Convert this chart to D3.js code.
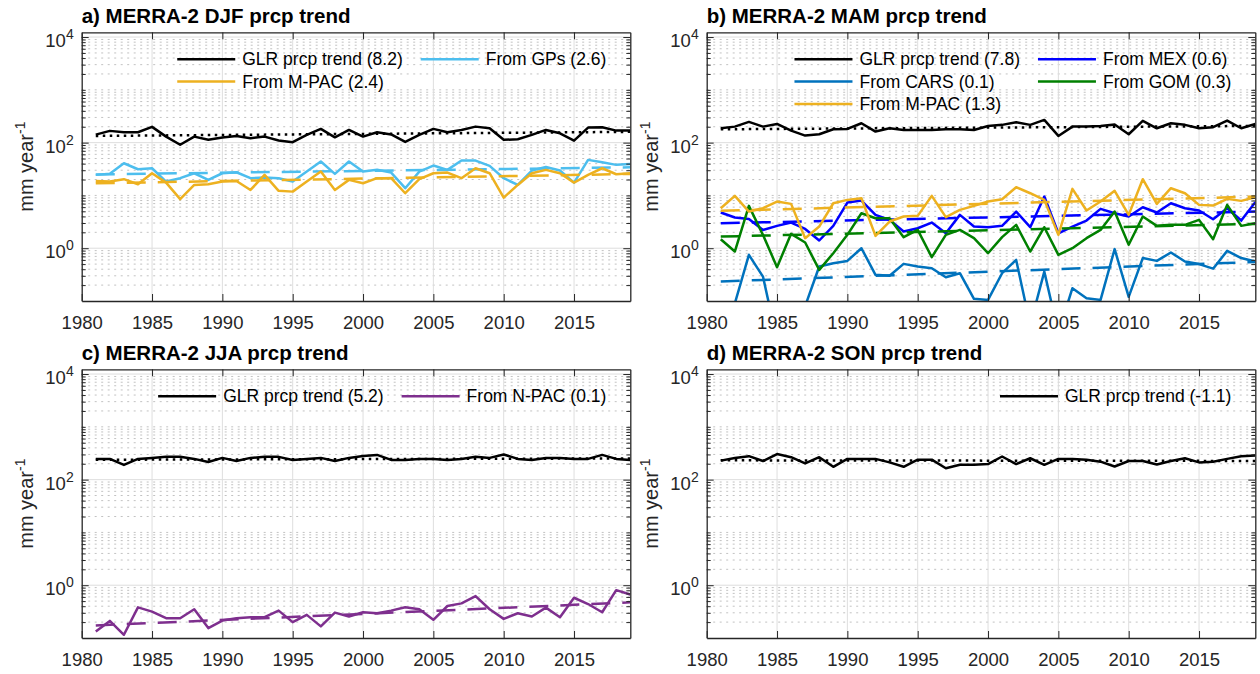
<!DOCTYPE html>
<html>
<head>
<meta charset="utf-8">
<script src="https://cdn.jsdelivr.net/npm/d3@7"></script>
<style>
    body { margin: 0; background: #fff; }
    svg { font-family: "Liberation Sans", Arial, Helvetica, sans-serif; }
</style>
</head>
<body>
<svg id="chart" width="1260" height="674"></svg>
<script>
const years = [1981, 1982, 1983, 1984, 1985, 1986, 1987, 1988, 1989, 1990,
    1991, 1992, 1993, 1994, 1995, 1996, 1997, 1998, 1999, 2000,
    2001, 2002, 2003, 2004, 2005, 2006, 2007, 2008, 2009, 2010,
    2011, 2012, 2013, 2014, 2015, 2016, 2017, 2018, 2019];
const xTicks = [1980, 1985, 1990, 1995, 2000, 2005, 2010, 2015];
const yMajorTicks = [1, 100, 10000];
const yTickExps = ["0", "2", "4"];

// a) DJF
const djfGLR = [142, 167, 157, 157, 199, 130, 91, 130, 113, 125, 134, 121, 130, 110, 102, 140, 182, 126, 174, 130,
    157, 143, 103, 140, 182, 157, 174, 201, 187, 113, 116, 140, 174, 150, 109, 193, 196, 169, 169];
const djfGPs = [24.5, 25.6, 40.7, 31.3, 32.7, 18.3, 21.2, 26.3, 19.7, 26.3, 27.5, 21.2, 21.8, 21.2, 18.3, 28.3, 43.8, 25.6, 43.8, 28.3,
    30.5, 27.1, 13.7, 28.3, 36.8, 30.5, 45.7, 45.7, 36.3, 21.2, 15.8, 29.6, 34.5, 29.6, 17.5, 47.1, 42.5, 37.9, 39.5];
const djfMPAC = [18.8, 18.3, 20.3, 16.3, 26.3, 17.5, 8.5, 15.8, 16.3, 18.3, 18.8, 12.7, 24.5, 12.2, 11.8, 18.3, 28.3, 12.7, 19.7, 17.0,
    21.2, 21.2, 11.0, 20.3, 26.3, 27.1, 21.2, 32.7, 26.3, 9.1, 15.8, 26.3, 30.5, 26.3, 17.5, 24.5, 32.7, 25.2, 26.3];
const djfGLRTrend = [134, 160];
const djfGPsTrend = [25, 34];
const djfMPACTrend = [17, 25.5];
const djfLabels = ["GLR prcp trend (8.2)", "From GPs (2.6)", "From M-PAC (2.4)"];

// b) MAM
const mamGLR = [187, 201, 247, 201, 226, 169, 136, 144, 179, 182, 233, 162, 187, 174, 174, 174, 179, 179, 174, 207,
    217, 243, 217, 269, 134, 201, 201, 207, 220, 144, 258, 187, 233, 217, 187, 196, 262, 187, 226];
const mamMEX = [4.74, 3.81, 3.59, 2.22, 2.65, 3.06, 2.32, 1.40, 2.65, 7.33, 8.0, 4.28, 3.44, 2.07, 2.39, 3.06, 1.92, 4.28, 2.57, 2.50,
    2.65, 4.95, 2.50, 9.52, 1.92, 2.57, 3.34, 5.56, 4.60, 3.98, 5.98, 4.74, 7.11, 5.72, 5.17, 3.54, 5.72, 3.34, 7.43];
const mamCARS = [0.03, 0.09, 0.75, 0.29, 0.018, 0.02, 0.08, 0.45, 0.52, 0.575, 1.0, 0.313, 0.30, 0.505, 0.45, 0.418, 0.282, 0.336, 0.11, 0.105,
    0.336, 0.60, 0.035, 0.36, 0.025, 0.175, 0.113, 0.105, 0.96, 0.12, 0.65, 0.575, 0.83, 0.56, 0.50, 0.41, 0.89, 0.65, 0.56];
const mamGOM = [1.48, 0.865, 6.33, 1.79, 0.437, 1.87, 1.28, 0.389, 0.804, 1.79, 4.60, 3.70, 3.70, 1.62, 2.22, 0.676, 1.79, 2.22, 1.55, 0.804,
    1.62, 2.77, 0.865, 2.50, 0.748, 1.0, 1.55, 2.22, 4.95, 1.16, 3.98, 2.65, 2.77, 2.77, 3.44, 1.48, 6.62, 2.65, 2.97];
const mamMPAC = [5.72, 9.8, 4.95, 5.72, 7.65, 6.92, 1.55, 2.57, 7.11, 8.23, 8.85, 1.71, 3.20, 3.98, 4.10, 9.8, 3.87, 5.32, 6.33, 7.65,
    8.47, 14.3, 11.0, 8.23, 1.79, 13.3, 5.17, 7.65, 12.2, 4.28, 20.3, 6.92, 13.7, 11.0, 6.62, 6.43, 8.6, 7.88, 9.25];
const mamGLRTrend = [179, 207];
const mamMEXTrend = [2.97, 4.95];
const mamCARSTrend = [0.234, 0.55];
const mamGOMTrend = [1.66, 2.89];
const mamMPACTrend = [5.1, 9.5];
const mamLabels = ["GLR prcp trend (7.8)", "From MEX (0.6)", "From CARS (0.1)", "From GOM (0.3)", "From M-PAC (1.3)"];

// c) JJA
const jjaGLR = [247, 247, 190, 247, 258, 270, 270, 247, 216, 258, 226, 258, 270, 270, 236, 247, 258, 226, 258, 281,
    294, 236, 236, 247, 247, 236, 247, 270, 258, 300, 247, 236, 258, 258, 247, 247, 294, 247, 236];
const jjaNPAC = [0.133, 0.211, 0.115, 0.381, 0.316, 0.237, 0.237, 0.350, 0.154, 0.214, 0.237, 0.248, 0.248, 0.330, 0.20, 0.274, 0.166, 0.303, 0.255, 0.307,
    0.294, 0.33, 0.381, 0.350, 0.221, 0.404, 0.453, 0.622, 0.350, 0.23, 0.294, 0.255, 0.376, 0.248, 0.579, 0.44, 0.307, 0.806, 0.668];
const jjaGLRTrend = [238, 252];
const jjaNPACTrend = [0.173, 0.473];
const jjaLabels = ["GLR prcp trend (5.2)", "From N-PAC (0.1)"];

// d) SON
const sonGLR = [229, 258, 278, 225, 305, 266, 203, 266, 175, 247, 247, 247, 212, 175, 239, 239, 164, 191, 191, 197,
    274, 197, 254, 191, 247, 247, 239, 219, 177, 225, 225, 194, 225, 254, 212, 219, 247, 278, 287];
const sonGLRTrend = [232, 226];
const sonLabels = ["GLR prcp trend (-1.1)"];

const DOT = "2.5,4.5", DASH = "19,12";

const panels = [
    { title: "a) MERRA-2 DJF prcp trend", ox: 81.7, oy: 32.3, ncol: 2, series: [
        { label: djfLabels[0], values: djfGLR, trend: djfGLRTrend, color: "#000000", dash: DOT },
        { label: djfLabels[1], values: djfGPs, trend: djfGPsTrend, color: "#4DBEEE", dash: DASH },
        { label: djfLabels[2], values: djfMPAC, trend: djfMPACTrend, color: "#EDB120", dash: DASH }] },
    { title: "b) MERRA-2 MAM prcp trend", ox: 706.7, oy: 32.3, ncol: 2, series: [
        { label: mamLabels[0], values: mamGLR, trend: mamGLRTrend, color: "#000000", dash: DOT },
        { label: mamLabels[1], values: mamMEX, trend: mamMEXTrend, color: "#0000FF", dash: DASH },
        { label: mamLabels[2], values: mamCARS, trend: mamCARSTrend, color: "#0072BD", dash: DASH },
        { label: mamLabels[3], values: mamGOM, trend: mamGOMTrend, color: "#008000", dash: DASH },
        { label: mamLabels[4], values: mamMPAC, trend: mamMPACTrend, color: "#EDB120", dash: DASH }] },
    { title: "c) MERRA-2 JJA prcp trend", ox: 81.7, oy: 369.3, ncol: 2, series: [
        { label: jjaLabels[0], values: jjaGLR, trend: jjaGLRTrend, color: "#000000", dash: DOT },
        { label: jjaLabels[1], values: jjaNPAC, trend: jjaNPACTrend, color: "#7E2F8E", dash: DASH }] },
    { title: "d) MERRA-2 SON prcp trend", ox: 706.7, oy: 369.3, ncol: 1, series: [
        { label: sonLabels[0], values: sonGLR, trend: sonGLRTrend, color: "#000000", dash: DOT }] }
];

const svg = d3.select("#chart");
const W = 548.6, H = 268.7;
const axisColor = "#262626";

const x = d3.scaleLinear().domain([1980, 2019]).range([0, W]);
const y = d3.scaleLog().domain([0.1, 12300]).range([H, 0]);
const line = d3.line().x(d => x(d[0])).y(d => y(d[1]));

const minorTicks = y.ticks().filter(v => v > 0.1 && !yMajorTicks.includes(v));

function styleAxis(g) {
    g.attr("font-size", null).attr("font-family", null);
    g.select(".domain").attr("stroke", axisColor).attr("stroke-width", 1.3);
    g.selectAll(".tick line").attr("stroke", axisColor).attr("stroke-width", 1);
    g.selectAll(".tick text").attr("fill", axisColor).attr("font-size", 18.5);
}

function drawLegend(g, series, ncol) {
    const lineLen = 58, gap = 7, colGap = 18, rowH = 22.3, inset = 24, firstRow = 27;
    const lg = g.append("g");
    const items = series.map((s, i) => {
        const it = lg.append("g");
        it.append("line").attr("stroke", s.color).attr("stroke-width", 2.5)
            .attr("x1", 0).attr("x2", lineLen);
        const t = it.append("text").attr("x", lineLen + gap).attr("y", 6)
            .attr("font-size", 17.5).attr("fill", "#000").text(s.label);
        return { it, w: t.node().getComputedTextLength(), col: i % ncol, row: Math.floor(i / ncol) };
    });
    const colW = d3.range(ncol).map(c => d3.max(items.filter(d => d.col === c), d => d.w));
    const total = d3.sum(colW, w => lineLen + gap + w) + colGap * (ncol - 1);
    const x0 = W - inset - total;
    const colX = colW.map((w, c) => x0 + d3.sum(colW.slice(0, c), v => lineLen + gap + v + colGap));
    items.forEach(d => d.it.attr("transform", `translate(${colX[d.col]},${firstRow + d.row * rowH})`));
}

panels.forEach((p, pi) => {
    const g = svg.append("g").attr("transform", `translate(${p.ox},${p.oy})`);

    // grid
    g.append("g").selectAll("line").data(minorTicks).join("line")
        .attr("x1", 0).attr("x2", W).attr("y1", d => y(d)).attr("y2", d => y(d))
        .attr("stroke", "#c2c2c2").attr("stroke-width", 1).attr("stroke-dasharray", "2,4.5");
    g.append("g").selectAll("line").data(yMajorTicks).join("line")
        .attr("x1", 0).attr("x2", W).attr("y1", d => y(d)).attr("y2", d => y(d))
        .attr("stroke", "#dedede").attr("stroke-width", 1);
    g.append("g").selectAll("line").data(xTicks.slice(1)).join("line")
        .attr("x1", d => x(d)).attr("x2", d => x(d)).attr("y1", 0).attr("y2", H)
        .attr("stroke", "#dedede").attr("stroke-width", 1);

    // data
    const clipId = "clip" + pi;
    g.append("clipPath").attr("id", clipId).append("rect").attr("width", W).attr("height", H);
    const dg = g.append("g").attr("clip-path", `url(#${clipId})`);
    p.series.forEach(s => {
        dg.append("path")
            .datum(years.map((yr, i) => [yr, s.values[i]]))
            .attr("d", line)
            .attr("fill", "none")
            .attr("stroke", s.color)
            .attr("stroke-width", 2.5)
            .attr("stroke-linejoin", "round");
        dg.append("path")
            .datum([[years[0], s.trend[0]], [years[years.length - 1], s.trend[1]]])
            .attr("d", line)
            .attr("fill", "none")
            .attr("stroke", s.color)
            .attr("stroke-width", 2.5)
            .attr("stroke-dasharray", s.dash);
    });

    // axes (ticks inward, box)
    g.append("g").call(d3.axisLeft(y).tickValues(yMajorTicks).tickSize(-7).tickSizeOuter(0).tickFormat(""))
        .call(styleAxis);
    g.append("g").call(d3.axisLeft(y).tickValues(minorTicks).tickSize(-4).tickSizeOuter(0).tickFormat(""))
        .call(styleAxis).call(a => a.select(".domain").remove());
    g.append("g").attr("transform", `translate(${W},0)`)
        .call(d3.axisRight(y).tickValues(yMajorTicks).tickSize(-7).tickSizeOuter(0).tickFormat(""))
        .call(styleAxis);
    g.append("g").attr("transform", `translate(${W},0)`)
        .call(d3.axisRight(y).tickValues(minorTicks).tickSize(-4).tickSizeOuter(0).tickFormat(""))
        .call(styleAxis).call(a => a.select(".domain").remove());
    g.append("g").attr("transform", `translate(0,${H})`)
        .call(d3.axisBottom(x).tickValues(xTicks).tickSize(-7).tickSizeOuter(0).tickPadding(15.2).tickFormat(d3.format("d")))
        .call(styleAxis);
    g.append("g")
        .call(d3.axisTop(x).tickValues(xTicks).tickSize(-7).tickSizeOuter(0).tickFormat(""))
        .call(styleAxis);

    // y tick labels 10^n
    g.append("g").selectAll("text").data(yMajorTicks).join("text")
        .attr("x", -8).attr("y", d => y(d) + 10)
        .attr("text-anchor", "end").attr("fill", axisColor).attr("font-size", 18.5)
        .each(function (d, i) {
            const t = d3.select(this);
            t.append("tspan").text("10");
            t.append("tspan").attr("dy", -8).attr("font-size", 14).text(yTickExps[i]);
        });

    // y label
    const yl = g.append("text")
        .attr("transform", `translate(-49,${H / 2}) rotate(-90)`)
        .attr("text-anchor", "middle").attr("fill", axisColor).attr("font-size", 20);
    yl.append("tspan").text("mm year");
    yl.append("tspan").attr("dy", -8).attr("font-size", 14).text("-1");

    // title
    g.append("text").attr("x", 0).attr("y", -9.6)
        .attr("font-weight", "bold").attr("font-size", 20.5).attr("fill", "#000")
        .text(p.title);

    drawLegend(g, p.series, p.ncol);
});
</script>
</body>
</html>
